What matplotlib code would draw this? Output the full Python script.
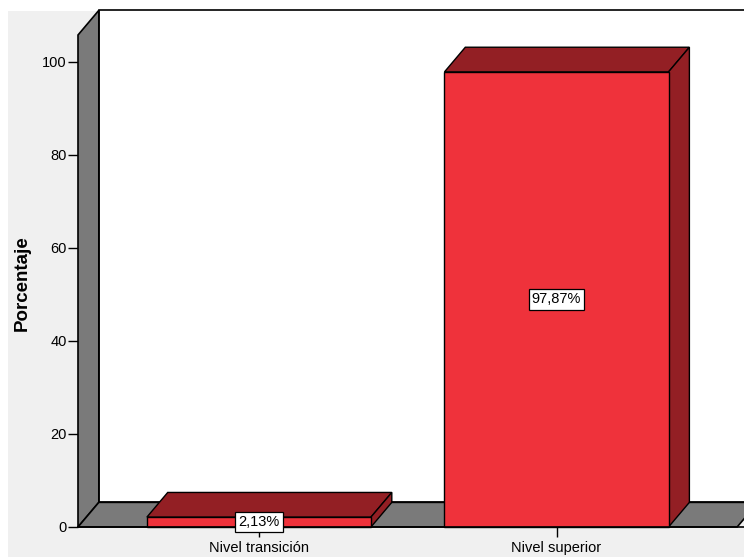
import matplotlib
matplotlib.use('Agg')
import matplotlib.pyplot as plt
from matplotlib.patches import Polygon, Rectangle

plt.rcParams['font.family'] = ['Liberation Sans', 'DejaVu Sans']

# Data
categories = ['Nivel transición', 'Nivel superior']
percentages = [2.13, 97.87]
value_labels = ['2,13%', '97,87%']
yticks = [0, 20, 40, 60, 80, 100]

# Style for the pseudo-3D box
front_color = '#EF323B'
shade_color = '#931F24'
wall_color = '#7A7A7A'
panel_color = '#F0F0F0'
bar_width = 0.753
depth_x = 0.07
depth_y = 5.3
x_left, x_floor_end, x_right = -0.608, 1.607, 1.63
y_top = 105.8

fig = plt.figure(figsize=(7.44, 5.57), dpi=100, facecolor='white')
# light grey panel behind the chart, leaving a thin white margin top/left
fig.patches.append(Rectangle((8 / 744, 0), 1, 1 - 11 / 557, transform=fig.transFigure,
                             facecolor=panel_color, edgecolor='none', zorder=-10))

ax = fig.add_axes([78 / 744, 30 / 557, 1 - 78 / 744, 492 / 557])
ax.set_facecolor('none')
ax.set_xlim(x_left, x_right)
ax.set_ylim(0, y_top)

# back wall
ax.add_patch(Rectangle((x_left + depth_x, depth_y), 5, y_top, facecolor='white',
                       edgecolor='black', lw=1.2, clip_on=False, zorder=1))
# left wall
ax.add_patch(Polygon([(x_left, 0), (x_left, y_top), (x_left + depth_x, y_top + depth_y),
                      (x_left + depth_x, depth_y)], closed=True, facecolor=wall_color,
                     edgecolor='black', lw=1.2, clip_on=False, zorder=2))
# floor
ax.add_patch(Polygon([(x_left, 0), (x_floor_end, 0), (x_floor_end + depth_x, depth_y),
                      (x_left + depth_x, depth_y)], closed=True, facecolor=wall_color,
                     edgecolor='black', lw=1.2, clip_on=False, zorder=2))

for i, (val, lab) in enumerate(zip(percentages, value_labels)):
    l, r = i - bar_width / 2, i + bar_width / 2
    top = Polygon([(l, val), (r, val), (r + depth_x, val + depth_y), (l + depth_x, val + depth_y)],
                  closed=True, facecolor=shade_color, edgecolor='black', lw=1, zorder=3, clip_on=False)
    side = Polygon([(r, 0), (r + depth_x, depth_y), (r + depth_x, val + depth_y), (r, val)],
                   closed=True, facecolor=shade_color, edgecolor='black', lw=1, zorder=3, clip_on=False)
    front = Rectangle((l, 0), bar_width, val, facecolor=front_color, edgecolor='black',
                      lw=1, zorder=4, clip_on=False)
    for p in (top, side, front):
        ax.add_patch(p)
    ax.text(i, val / 2, lab, ha='center', va='center', fontsize=10.5, zorder=6,
            bbox=dict(boxstyle='square,pad=0.22', facecolor='white', edgecolor='black', lw=0.9))

for s in ax.spines.values():
    s.set_visible(False)
ax.axhline(0, color='black', lw=1.2, zorder=5, clip_on=False)

ax.set_yticks(yticks)
ax.set_xticks(range(len(categories)))
ax.set_xticklabels(categories)
ax.tick_params(axis='y', direction='out', length=7, width=1, pad=1, labelsize=10.5)
ax.tick_params(axis='x', direction='out', length=7, width=1, pad=3, labelsize=10.5)
fig.text(22 / 744, 1 - 283 / 557, 'Porcentaje', rotation=90, ha='center', va='center',
         fontsize=13.5, fontweight='bold')

fig.savefig('out.png', dpi=100, facecolor=fig.get_facecolor())
